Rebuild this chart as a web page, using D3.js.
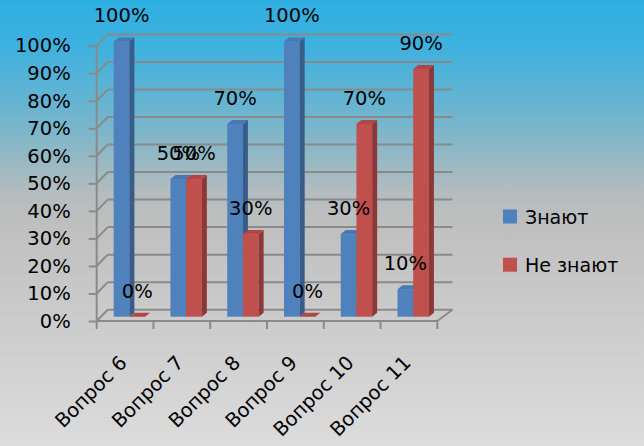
<!DOCTYPE html>
<html><head><meta charset="utf-8">
<script src="https://cdn.jsdelivr.net/npm/d3@7"></script>
<style>html,body{margin:0;padding:0;overflow:hidden;}svg{display:block;}</style>
</head><body>
<svg id="c" width="644" height="446"></svg>
<script>
const categories = ["Вопрос 6","Вопрос 7","Вопрос 8","Вопрос 9","Вопрос 10","Вопрос 11"];
const seriesNames = ["Знают","Не знают"];
const know = [1.0, 0.5, 0.7, 1.0, 0.3, 0.1];
const dontKnow = [0.0, 0.5, 0.3, 0.0, 0.7, 0.9];
const yTicks = [0,0.1,0.2,0.3,0.4,0.5,0.6,0.7,0.8,0.9,1.0];

const colors = {
  front: ["#4f81bd","#c0504d"],
  side: ["#385d8a","#8c3836"],
  top: ["#4a78b1","#b04744"]
};
const FONT = "'DejaVu Sans', sans-serif";
const svg = d3.select("#c");

// background gradient
const defs = svg.append("defs");
const g0 = defs.append("linearGradient").attr("id","bg").attr("x1",0).attr("y1",0).attr("x2",0).attr("y2",1);
[[0,"#2eafe2"],[0.1,"#3db1df"],[0.25,"#6cb4cf"],[0.35,"#93b8c4"],[0.43,"#b3bcbf"],[0.5,"#bfbfbf"],[1,"#dcdcdc"]]
  .forEach(([o,c])=>g0.append("stop").attr("offset",o).attr("stop-color",c));
svg.append("rect").attr("width",644).attr("height",446).attr("fill","url(#bg)");

const x = d3.scaleBand().domain(categories).range([96.7,437.3]).padding(0);
const y = d3.scaleLinear().domain([0,1]).range([321,45.7]);
const sub = d3.scaleBand().domain(seriesNames).range([-15.7,15.7]).padding(0);

const wallDx = 11, wallDy = -11.3, backRight = 452.5;
const barDx = 5, barDy = -4, barShiftX = 4.3, barShiftY = -4.3;
const gridColor = "#8a8a8a";

// back wall gridlines
svg.append("g").selectAll("line.grid").data(yTicks).join("line")
  .attr("x1", x.range()[0]+wallDx).attr("x2", backRight)
  .attr("y1", d=>y(d)+wallDy).attr("y2", d=>y(d)+wallDy)
  .attr("stroke",gridColor).attr("stroke-width",2);
// side wall diagonals
svg.append("g").selectAll("line").data(yTicks).join("line")
  .attr("x1", x.range()[0]).attr("y1", d=>y(d))
  .attr("x2", x.range()[0]+wallDx).attr("y2", d=>y(d)+wallDy)
  .attr("stroke",gridColor).attr("stroke-width",2);
// floor front edge and right edge
const floor = svg.append("g").attr("stroke",gridColor).attr("stroke-width",2).attr("fill","none");
floor.append("line").attr("x1",x.range()[0]).attr("x2",x.range()[1]).attr("y1",y(0)).attr("y2",y(0));
floor.append("line").attr("x1",x.range()[1]).attr("y1",y(0)).attr("x2",backRight).attr("y2",y(0)+wallDy);

// y axis
const yAxis = svg.append("g").attr("transform",`translate(${x.range()[0]},0)`)
  .call(d3.axisLeft(y).tickValues(yTicks).tickFormat(d3.format(".0%")).tickSize(8).tickPadding(18));
yAxis.selectAll("path,line").attr("stroke",gridColor).attr("stroke-width",2);
yAxis.select(".domain").attr("d",`M0,${y(0)}V${y(1)}`);
yAxis.selectAll("text").attr("font-family",FONT).attr("font-size",19.5).attr("fill","#000");

// x ticks at band edges
const edges = categories.map(c=>x(c)).concat([x.range()[1]]);
svg.append("g").selectAll("line").data(edges).join("line")
  .attr("x1",d=>d).attr("x2",d=>d).attr("y1",y(0)).attr("y2",y(0)+8)
  .attr("stroke",gridColor).attr("stroke-width",2);

// x labels
svg.append("g").selectAll("text").data(categories).join("text")
  .attr("transform",d=>`translate(${x(d)+x.bandwidth()/2+3},364) rotate(-45)`)
  .attr("text-anchor","end").attr("font-family",FONT).attr("font-size",19.5).attr("fill","#000")
  .text(d=>d);

// bars
const rows = [];
categories.forEach((c,i)=>{
  [know[i], dontKnow[i]].forEach((v,s)=>rows.push({c, s, v, name: seriesNames[s]}));
});
const bw = sub.bandwidth();
const barsG = svg.append("g");
rows.forEach(r=>{
  const x0 = x(r.c)+x.bandwidth()/2+barShiftX+sub(r.name);
  const x1 = x0+bw;
  const yb = y(0)+barShiftY;
  const yt = y(r.v)+barShiftY;
  const g = barsG.append("g");
  if (yb-yt > 0.5) {
    g.append("rect").attr("x",x0).attr("y",yt).attr("width",bw).attr("height",yb-yt).attr("fill",colors.front[r.s]);
    g.append("path").attr("d",`M${x1},${yt}L${x1+barDx},${yt+barDy}L${x1+barDx},${yb+barDy}L${x1},${yb}Z`).attr("fill",colors.side[r.s]);
  }
  g.append("path").attr("d",`M${x0},${yt}L${x0+barDx},${yt+barDy}L${x1+barDx},${yt+barDy}L${x1},${yt}Z`).attr("fill",colors.top[r.s]);
});

// data labels
svg.append("g").selectAll("text").data(rows).join("text")
  .attr("x",d=>x(d.c)+x.bandwidth()/2+barShiftX+sub(d.name)+bw/2)
  .attr("y",d=>y(d.v)+barShiftY-26)
  .attr("dy","0.36em")
  .attr("text-anchor","middle").attr("font-family",FONT).attr("font-size",19.5).attr("fill","#000")
  .text(d=>d3.format(".0%")(d.v));

// legend
const leg = svg.append("g").selectAll("g").data(seriesNames).join("g")
  .attr("transform",(d,i)=>`translate(503,${209.5+i*48.2})`);
leg.append("rect").attr("width",14).attr("height",14).attr("fill",(d,i)=>colors.front[i]);
leg.append("text").attr("x",22).attr("y",14).attr("font-family",FONT).attr("font-size",19).attr("fill","#000").text(d=>d);
</script>
</body></html>
